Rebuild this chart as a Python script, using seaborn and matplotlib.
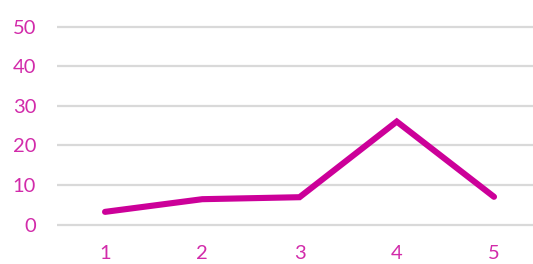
import matplotlib
matplotlib.use("Agg")
import matplotlib.pyplot as plt
import seaborn as sns
import pandas as pd

categories = [1, 2, 3, 4, 5]
values = [3.2, 6.4, 6.9, 26.0, 7.0]
y_ticks = [0, 10, 20, 30, 40, 50]

sns.set_style("white")
plt.rcParams['font.family'] = ['Lato', 'DejaVu Sans']

line_color = "#CC0099"
text_color = "#D22BAA"
grid_color = "#D9D9D9"

df = pd.DataFrame({"x": categories, "y": values})

fig = plt.figure(figsize=(5.33, 2.64), dpi=100)
ax = fig.add_axes([57/533, 0.142, 1 - 57/533, 0.7725])

for t in y_ticks:
    ax.axhline(t, color=grid_color, lw=1.6, zorder=0)

sns.lineplot(data=df, x="x", y="y", ax=ax, color=line_color, lw=4.4,
             solid_capstyle="round", solid_joinstyle="miter", zorder=3)

ax.set_xlim(0.506, 5.401)
ax.set_ylim(-0.5, 51)
ax.set_xticks(categories)
ax.set_xticklabels([str(c) for c in categories])
ax.set_yticks(y_ticks)
ax.set_yticklabels([str(t) for t in y_ticks])
ax.tick_params(axis="both", length=0, labelsize=14.5, labelcolor=text_color)
ax.tick_params(axis="y", pad=15)
ax.tick_params(axis="x", pad=13)
ax.set_xlabel("")
ax.set_ylabel("")
for s in ax.spines.values():
    s.set_visible(False)

fig.savefig("out.png", dpi=100)
